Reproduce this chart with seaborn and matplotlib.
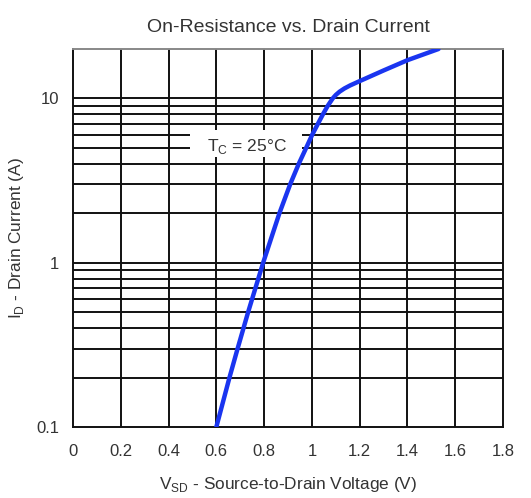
import matplotlib
matplotlib.use("Agg")
import matplotlib.pyplot as plt
import seaborn as sns
import pandas as pd
import numpy as np
from matplotlib.patches import Rectangle

# Data
v_sd = [0.600, 0.655, 0.689, 0.733, 0.796, 0.864, 0.909, 0.945, 0.976, 1.001,
        1.025, 1.046, 1.066, 1.087, 1.100, 1.116, 1.136, 1.160, 1.192,
        1.30, 1.40, 1.53]
i_d = [0.1, 0.2, 0.3, 0.5, 1.0, 2.0, 3.0, 4.0, 5.0, 6.0,
       7.0, 8.0, 9.0, 10.0, 10.5, 11.0, 11.5, 12.0, 12.6,
       14.8, 17.1, 20.0]
x_ticks = [0, 0.2, 0.4, 0.6, 0.8, 1, 1.2, 1.4, 1.6, 1.8]
x_tick_labels = ["0", "0.2", "0.4", "0.6", "0.8", "1", "1.2", "1.4", "1.6", "1.8"]
y_ticks = [0.1, 1, 10]
y_tick_labels = ["0.1", "1", "10"]

sns.set_theme(style="white")
plt.rcParams['font.family'] = ['Liberation Sans', 'DejaVu Sans']

df = pd.DataFrame({"v": v_sd, "i": i_d})

fig = plt.figure(figsize=(5.31, 4.98), dpi=100)
ax = fig.add_axes([73/531, 1-427/498, (503-73)/531, (427-49)/498])

ax.set_yscale("log")
ax.set_xlim(0, 1.8)
ax.set_ylim(0.1, 20)

# grid
grid_y = [m * 10.0**e for e in (-1, 0) for m in range(2, 10)] + [1, 10]
for gy in grid_y:
    ax.axhline(gy, color="#111111", lw=1.4, zorder=1)
for gx in x_ticks[1:-1]:
    ax.axvline(gx, color="#111111", lw=1.4, zorder=1)

for s in ["left", "right", "bottom"]:
    ax.spines[s].set_color("#111111")
    ax.spines[s].set_linewidth(1.4)
ax.spines["top"].set_color("#888888")
ax.spines["top"].set_linewidth(1.4)

# label box hiding grid
ax.add_patch(Rectangle((0.49, 10**(-1 + (427-157)/164.5)), 0.47,
                       10**(-1 + (427-130)/164.5) - 10**(-1 + (427-157)/164.5),
                       facecolor="white", edgecolor="none", zorder=2))
ax.text(0.73, 10**(-1 + (427-146)/164.5), r"T$_\mathregular{C}$ = 25°C",
        ha="center", va="center", fontsize=12.5, color="#333333", zorder=3)

sns.lineplot(data=df, x="v", y="i", ax=ax, color="#1a35f0", lw=3.2, sort=False,
             zorder=4, legend=False)

ax.set_xticks(x_ticks)
ax.set_xticklabels(x_tick_labels)
ax.set_yticks(y_ticks)
ax.set_yticklabels(y_tick_labels)
ax.yaxis.set_minor_locator(matplotlib.ticker.NullLocator())
ax.tick_params(axis="both", length=0, labelsize=12, colors="#333333", pad=10)
ax.tick_params(axis="x", pad=12)

ax.set_xlabel(r"V$_\mathregular{SD}$ - Source-to-Drain Voltage (V)", fontsize=12.4,
              color="#333333", labelpad=12)
ax.set_ylabel(r"I$_\mathregular{D}$ - Drain Current (A)", fontsize=12.4,
              color="#333333", labelpad=7)
ax.set_title("On-Resistance vs. Drain Current", fontsize=14, color="#333333", pad=12)

fig.savefig("out.png", dpi=100, facecolor="white")
